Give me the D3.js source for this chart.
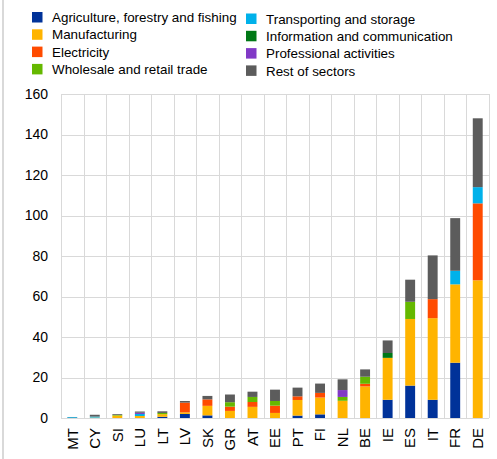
<!DOCTYPE html>
<html>
<head>
<meta charset="utf-8">
<script src="https://cdn.jsdelivr.net/npm/d3@7"></script>
<style>
  html, body { margin: 0; padding: 0; background: #fff; }
  svg { display: block; font-family: "Liberation Sans", Arial, sans-serif; }
</style>
</head>
<body>
<svg id="chart" width="497" height="459"></svg>
<script>
const countries = ["MT","CY","SI","LU","LT","LV","SK","GR","AT","EE","PT","FI","NL","BE","IE","ES","IT","FR","DE"];
const sectors = ["Agriculture, forestry and fishing","Manufacturing","Electricity","Wholesale and retail trade","Transporting and storage","Information and communication","Professional activities","Rest of sectors"];
const colors = ["#003299","#FFB400","#FF4B00","#65B800","#00B1EA","#007816","#8139C6","#5C5C5C"];

const agriculture   = [0,   0,   0,   0,   0.6, 2.0, 1.3, 0,   0,   0,   1.2, 1.8, 0,   0,   9.0, 16.0, 9.0, 27.3, 0];
const manufacturing = [0,   0.2, 1.2, 1.0, 1.3, 0.8, 4.7, 3.5, 5.5, 2.5, 7.7, 8.3, 8.5, 15.6,20.7,32.9, 40.3,38.7, 68];
const electricity   = [0,   0,   0,   0,   0,   4.8, 3.2, 2.1, 2.4, 3.6, 1.8, 2.3, 0,   1.3, 0,   0,    9.4, 0,    38];
const wholesale     = [0,   0,   0.3, 0,   0.6, 0,   0,   2.2, 2.5, 2.3, 0,   0,   1.9, 3.5, 0,   8.5,  0,   0,    0];
const transport     = [0.4, 0.5, 0,   1.0, 0,   0,   0,   0,   0,   0,   0,   0,   0,   0,   0,   0,    0,   6.7,  8];
const information   = [0,   0,   0,   0,   0,   0,   0,   0,   0,   0,   0,   0,   0,   0,   2.4, 0,    0,   0,    0];
const professional  = [0,   0,   0,   0.6, 0,   0,   0,   0,   0,   0,   0,   0,   3.4, 0,   0,   0,    0,   0,    0];
const restOfSectors = [0.1, 0.9, 0.4, 0.6, 0.8, 0.8, 1.7, 3.8, 2.6, 5.6, 4.3, 4.6, 5.3, 3.6, 6.2, 10.9, 21.6,26.0, 34];
const yTicks = [0,20,40,60,80,100,120,140,160];

const seriesArrays = [agriculture, manufacturing, electricity, wholesale, transport, information, professional, restOfSectors];
const table = countries.map((c, i) => {
  const row = { country: c };
  sectors.forEach((s, k) => row[s] = seriesArrays[k][i]);
  return row;
});

const svg = d3.select("#chart");
const margin = { left: 61, right: 8, top: 94, bottom: 41 };
const W = 497, H = 459;
const x = d3.scaleBand().domain(countries).range([margin.left, W - margin.right]).paddingInner(0.56).paddingOuter(0.28);
const y = d3.scaleLinear().domain([0, 160]).range([H - margin.bottom, margin.top]);

// left border line of the image
svg.append("rect").attr("x", 2).attr("y", 0).attr("width", 2).attr("height", H).attr("fill", "#d9d9d9");

const step = (W - margin.right - margin.left) / countries.length;
const grid = svg.append("g").attr("stroke", "#d9d9d9").attr("stroke-width", 1).attr("shape-rendering", "crispEdges");
yTicks.forEach(t => {
  grid.append("line").attr("x1", margin.left).attr("x2", W - margin.right).attr("y1", Math.round(y(t)) + 0.5).attr("y2", Math.round(y(t)) + 0.5);
});
d3.range(countries.length + 1).forEach(i => {
  const xx = Math.round(margin.left + i * step) + 0.5;
  grid.append("line").attr("x1", xx).attr("x2", xx).attr("y1", y(160)).attr("y2", y(0));
});

const stack = d3.stack().keys(sectors)(table);
svg.append("g").selectAll("g").data(stack).join("g")
  .attr("fill", (d, i) => colors[i])
  .selectAll("rect").data(d => d).join("rect")
  .attr("x", d => x(d.data.country))
  .attr("width", x.bandwidth())
  .attr("y", d => y(d[1]))
  .attr("height", d => Math.max(0, y(d[0]) - y(d[1])));

// y axis labels
const yAxis = d3.axisLeft(y).tickValues(yTicks).tickSize(0).tickPadding(13);
const ya = svg.append("g").attr("transform", `translate(${margin.left},0)`).call(yAxis);
ya.select(".domain").remove();
ya.selectAll("text").attr("font-size", 14).attr("fill", "#000").attr("font-family", "Liberation Sans, Arial, sans-serif");

// x axis labels
const xAxis = d3.axisBottom(x).tickSize(0).tickPadding(0);
const xa = svg.append("g").attr("transform", `translate(0,${H - margin.bottom})`).call(xAxis);
xa.select(".domain").remove();
xa.selectAll("text")
  .attr("font-size", 15).attr("fill", "#000").attr("font-family", "Liberation Sans, Arial, sans-serif")
  .attr("text-anchor", "end")
  .attr("transform", "rotate(-90)")
  .attr("x", -10).attr("y", 0).attr("dy", "0.35em");

// legend
const legend = svg.append("g").attr("font-size", 13.4);
sectors.forEach((s, i) => {
  const col = i < 4 ? 0 : 1;
  const row = i % 4;
  const lx = col === 0 ? 32 : 246;
  const ly = (col === 0 ? 12 : 13.5) + row * 17.3;
  legend.append("rect").attr("x", lx).attr("y", ly).attr("width", 10.5).attr("height", 10.5).attr("fill", colors[i]);
  legend.append("text").attr("x", lx + 20).attr("y", ly + 5.5).attr("dy", "0.35em").attr("fill", "#000").text(s);
});
</script>
</body>
</html>
